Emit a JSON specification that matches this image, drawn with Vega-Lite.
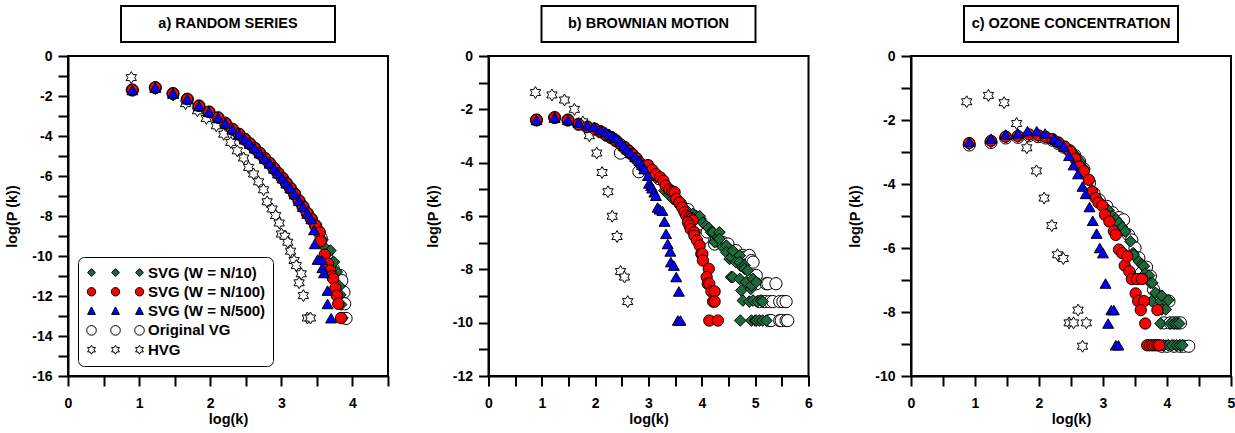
{
"$schema": "https://vega.github.io/schema/vega-lite/v6.json",
"padding": {"left": 4, "top": 5, "right": 2, "bottom": 4},
"background": "white",
"spacing": 34.5,
"resolve": {"scale": {"fill": "independent", "shape": "independent", "size": "independent"}},
"config": {
  "font": "Liberation Sans",
  "view": {"stroke": null},
  "axis": {"domain": true, "domainColor": "black", "domainWidth": 2, "grid": false, "ticks": true, "tickColor": "black", "tickWidth": 2, "tickSize": 10, "labelFont": "Liberation Sans", "labelFontSize": 14, "labelFontWeight": "bold", "labelColor": "black", "titleFont": "Liberation Sans", "titleFontSize": 14.5, "titleFontWeight": "bold", "titleColor": "black", "labelOverlap": false, "labelFlush": false},
  "axisX": {"labelPadding": 10, "titlePadding": 2},
  "axisY": {"labelPadding": 6, "titlePadding": 12}
},
"hconcat": [
 {"vconcat": [
   {"width": 214, "height": 36, "data": {"values": [{"t": "a) RANDOM SERIES"}]}, "layer": [
     {"mark": {"type": "rect", "fill": "white", "stroke": "black", "strokeWidth": 2}, "encoding": {}},
     {"mark": {"type": "text", "font": "Liberation Sans", "fontSize": 14.5, "fontWeight": "bold", "align": "center", "baseline": "middle", "color": "black"}, "encoding": {"text": {"field": "t", "type": "nominal"}}}]},
   {"width": 320, "height": 320, "resolve": {"scale": {"fill": "independent", "shape": "independent", "size": "independent"}}, "layer": [
    {"data": {"name": "a"},
    "mark": {"type": "point", "filled": true, "stroke": "black", "strokeWidth": 1, "opacity": 1},
    "encoding": {
      "x": {"field": "x", "type": "quantitative", "scale": {"domain": [0, 4.5], "nice": false, "zero": false}, "axis": {"title": "log(k)", "values": [0,0.5,1,1.5,2,2.5,3,3.5,4,4.5], "labelExpr": "datum.value % 1 === 0 ? '' + datum.value : ''", "encode": {"ticks": {"y2": {"value": {"expr": "datum.value % 1 === 0 ? 10 : 5"}}}}}},
      "y": {"field": "y", "type": "quantitative", "scale": {"domain": [-16, 0], "nice": false, "zero": false}, "axis": {"title": "log(P (k))", "values": [-16,-15,-14,-13,-12,-11,-10,-9,-8,-7,-6,-5,-4,-3,-2,-1,0], "labelExpr": "datum.value % 2 === 0 ? '' + datum.value : ''", "encode": {"ticks": {"x2": {"value": {"expr": "datum.value % 2 === 0 ? -10 : -5"}}}}}},
      "fill": {"field": "s", "type": "nominal", "legend": null, "scale": {"domain": ["SVG (W = N/10)", "SVG (W = N/100)", "SVG (W = N/500)", "Original VG", "HVG"], "range": ["#1b6a3b", "#ff0000", "#0000ff", "#ffffff", "#ffffff"]}},
      "shape": {"field": "s", "type": "nominal", "legend": null, "scale": {"domain": ["HVG", "Original VG", "SVG (W = N/500)", "SVG (W = N/100)", "SVG (W = N/10)"], "range": ["M0,-1L0.289,-0.5L0.866,-0.5L0.577,0L0.866,0.5L0.289,0.5L0,1L-0.289,0.5L-0.866,0.5L-0.577,0L-0.866,-0.5L-0.289,-0.5Z", "circle", "triangle-up", "circle", "diamond"]}},
      "size": {"field": "s", "type": "nominal", "legend": null, "scale": {"domain": ["Original VG", "HVG", "SVG (W = N/10)", "SVG (W = N/100)", "SVG (W = N/500)"], "range": [150, 120, 64, 100, 80]}}
    }},
    {"data": {"values": [{"s": "SVG (W = N/10)"}, {"s": "SVG (W = N/100)"}, {"s": "SVG (W = N/500)"}, {"s": "Original VG"}, {"s": "HVG"}]},
     "mark": {"type": "point", "filled": true, "opacity": 0, "stroke": "black", "strokeWidth": 1},
     "encoding": {
      "fill": {"field": "s", "type": "nominal", "scale": {"domain": ["SVG (W = N/10)", "SVG (W = N/100)", "SVG (W = N/500)", "Original VG", "HVG"], "range": ["#1b6a3b", "#ff0000", "#0000ff", "#ffffff", "#ffffff"]},
        "legend": {"title": null, "orient": "bottom-left", "offset": 10, "padding": 7, "strokeColor": "black", "cornerRadius": 6, "fillColor": "white", "symbolSize": 3600, "clipHeight": 17, "rowPadding": 2.3, "symbolOffset": 0, "labelOffset": 2, "labelFont": "Liberation Sans", "labelFontSize": 15, "labelFontWeight": "bold", "labelColor": "black", "labelLimit": 300, "symbolOpacity": 1, "symbolStrokeColor": "black", "symbolStrokeWidth": 1, "encode": {"legend": {"strokeWidth": {"value": 2}}}}},
      "shape": {"field": "s", "type": "nominal", "scale": {"domain": ["SVG (W = N/10)", "SVG (W = N/100)", "SVG (W = N/500)", "Original VG", "HVG"], "range": [
        "M-0.93,0L-0.8,-0.13L-0.67,0L-0.8,0.13ZM-0.13,0L0,-0.13L0.13,0L0,0.13ZM0.67,0L0.8,-0.13L0.93,0L0.8,0.13Z",
        "M-0.94,0A0.14,0.14 0 1,0 -0.66,0A0.14,0.14 0 1,0 -0.94,0ZM-0.14,0A0.14,0.14 0 1,0 0.14,0A0.14,0.14 0 1,0 -0.14,0ZM0.66,0A0.14,0.14 0 1,0 0.94,0A0.14,0.14 0 1,0 0.66,0Z",
        "M-0.8,-0.14L-0.67,0.11L-0.93,0.11ZM0,-0.14L0.13,0.11L-0.13,0.11ZM0.8,-0.14L0.93,0.11L0.67,0.11Z",
        "M-0.96,0A0.16,0.16 0 1,0 -0.64,0A0.16,0.16 0 1,0 -0.96,0ZM-0.16,0A0.16,0.16 0 1,0 0.16,0A0.16,0.16 0 1,0 -0.16,0ZM0.64,0A0.16,0.16 0 1,0 0.96,0A0.16,0.16 0 1,0 0.64,0Z",
        "M-0.8,-0.15L-0.757,-0.075L-0.67,-0.075L-0.713,0L-0.67,0.075L-0.757,0.075L-0.8,0.15L-0.843,0.075L-0.93,0.075L-0.887,0L-0.93,-0.075L-0.843,-0.075ZM0,-0.15L0.043,-0.075L0.13,-0.075L0.087,0L0.13,0.075L0.043,0.075L0,0.15L-0.043,0.075L-0.13,0.075L-0.087,0L-0.13,-0.075L-0.043,-0.075ZM0.8,-0.15L0.843,-0.075L0.93,-0.075L0.887,0L0.93,0.075L0.843,0.075L0.8,0.15L0.757,0.075L0.67,0.075L0.713,0L0.67,-0.075L0.757,-0.075Z"]}}
     }},
    {"data": {"values": [{"v": 0}, {"v": 4.5}]}, "mark": {"type": "rule", "stroke": "black", "strokeWidth": 2, "strokeCap": "square"},
     "encoding": {"x": {"field": "v", "type": "quantitative", "scale": {"domain": [0, 4.5], "nice": false, "zero": false}, "axis": {"title": "log(k)", "values": [0,0.5,1,1.5,2,2.5,3,3.5,4,4.5], "labelExpr": "datum.value % 1 === 0 ? '' + datum.value : ''", "encode": {"ticks": {"y2": {"value": {"expr": "datum.value % 1 === 0 ? 10 : 5"}}}}}}}},
    {"data": {"values": [{"w": -16}, {"w": 0}]}, "mark": {"type": "rule", "stroke": "black", "strokeWidth": 2, "strokeCap": "square"},
     "encoding": {"y": {"field": "w", "type": "quantitative", "scale": {"domain": [-16, 0], "nice": false, "zero": false}, "axis": {"title": "log(P (k))", "values": [-16,-15,-14,-13,-12,-11,-10,-9,-8,-7,-6,-5,-4,-3,-2,-1,0], "labelExpr": "datum.value % 2 === 0 ? '' + datum.value : ''", "encode": {"ticks": {"x2": {"value": {"expr": "datum.value % 2 === 0 ? -10 : -5"}}}}}}}}
    ]}
  ], "spacing": 14, "center": true, "bounds": "flush", "resolve": {"scale": {"fill": "independent", "shape": "independent", "size": "independent"}}},
 {"vconcat": [
   {"width": 214, "height": 36, "data": {"values": [{"t": "b) BROWNIAN MOTION"}]}, "layer": [
     {"mark": {"type": "rect", "fill": "white", "stroke": "black", "strokeWidth": 2}, "encoding": {}},
     {"mark": {"type": "text", "font": "Liberation Sans", "fontSize": 14.5, "fontWeight": "bold", "align": "center", "baseline": "middle", "color": "black"}, "encoding": {"text": {"field": "t", "type": "nominal"}}}]},
   {"width": 320, "height": 320, "layer": [
    {"data": {"name": "b"},
    "mark": {"type": "point", "filled": true, "stroke": "black", "strokeWidth": 1, "opacity": 1},
    "encoding": {
      "x": {"field": "x", "type": "quantitative", "scale": {"domain": [0, 6], "nice": false, "zero": false}, "axis": {"title": "log(k)", "values": [0,0.5,1,1.5,2,2.5,3,3.5,4,4.5,5,5.5,6], "labelExpr": "datum.value % 1 === 0 ? '' + datum.value : ''", "encode": {"ticks": {"y2": {"value": {"expr": "datum.value % 1 === 0 ? 10 : 5"}}}}}},
      "y": {"field": "y", "type": "quantitative", "scale": {"domain": [-12, 0], "nice": false, "zero": false}, "axis": {"title": "log(P (k))", "values": [-12,-11,-10,-9,-8,-7,-6,-5,-4,-3,-2,-1,0], "labelExpr": "datum.value % 2 === 0 ? '' + datum.value : ''", "encode": {"ticks": {"x2": {"value": {"expr": "datum.value % 2 === 0 ? -10 : -5"}}}}}},
      "fill": {"field": "s", "type": "nominal", "legend": null, "scale": {"domain": ["SVG (W = N/10)", "SVG (W = N/100)", "SVG (W = N/500)", "Original VG", "HVG"], "range": ["#1b6a3b", "#ff0000", "#0000ff", "#ffffff", "#ffffff"]}},
      "shape": {"field": "s", "type": "nominal", "legend": null, "scale": {"domain": ["HVG", "Original VG", "SVG (W = N/500)", "SVG (W = N/100)", "SVG (W = N/10)"], "range": ["M0,-1L0.289,-0.5L0.866,-0.5L0.577,0L0.866,0.5L0.289,0.5L0,1L-0.289,0.5L-0.866,0.5L-0.577,0L-0.866,-0.5L-0.289,-0.5Z", "circle", "triangle-up", "circle", "diamond"]}},
      "size": {"field": "s", "type": "nominal", "legend": null, "scale": {"domain": ["Original VG", "HVG", "SVG (W = N/10)", "SVG (W = N/100)", "SVG (W = N/500)"], "range": [150, 120, 64, 100, 80]}}
    }},
    {"data": {"values": [{"v": 0}, {"v": 6}]}, "mark": {"type": "rule", "stroke": "black", "strokeWidth": 2, "strokeCap": "square"},
     "encoding": {"x": {"field": "v", "type": "quantitative", "scale": {"domain": [0, 6], "nice": false, "zero": false}, "axis": {"title": "log(k)", "values": [0,0.5,1,1.5,2,2.5,3,3.5,4,4.5,5,5.5,6], "labelExpr": "datum.value % 1 === 0 ? '' + datum.value : ''", "encode": {"ticks": {"y2": {"value": {"expr": "datum.value % 1 === 0 ? 10 : 5"}}}}}}}},
    {"data": {"values": [{"w": -12}, {"w": 0}]}, "mark": {"type": "rule", "stroke": "black", "strokeWidth": 2, "strokeCap": "square"},
     "encoding": {"y": {"field": "w", "type": "quantitative", "scale": {"domain": [-12, 0], "nice": false, "zero": false}, "axis": {"title": "log(P (k))", "values": [-12,-11,-10,-9,-8,-7,-6,-5,-4,-3,-2,-1,0], "labelExpr": "datum.value % 2 === 0 ? '' + datum.value : ''", "encode": {"ticks": {"x2": {"value": {"expr": "datum.value % 2 === 0 ? -10 : -5"}}}}}}}}
    ]}
  ], "spacing": 14, "center": true, "bounds": "flush", "resolve": {"scale": {"fill": "independent", "shape": "independent", "size": "independent"}}},
 {"vconcat": [
   {"width": 214, "height": 36, "data": {"values": [{"t": "c) OZONE CONCENTRATION"}]}, "layer": [
     {"mark": {"type": "rect", "fill": "white", "stroke": "black", "strokeWidth": 2}, "encoding": {}},
     {"mark": {"type": "text", "font": "Liberation Sans", "fontSize": 14.5, "fontWeight": "bold", "align": "center", "baseline": "middle", "color": "black"}, "encoding": {"text": {"field": "t", "type": "nominal"}}}]},
   {"width": 320, "height": 320, "layer": [
    {"data": {"name": "c"},
    "mark": {"type": "point", "filled": true, "stroke": "black", "strokeWidth": 1, "opacity": 1},
    "encoding": {
      "x": {"field": "x", "type": "quantitative", "scale": {"domain": [0, 5], "nice": false, "zero": false}, "axis": {"title": "log(k)", "values": [0,0.5,1,1.5,2,2.5,3,3.5,4,4.5,5], "labelExpr": "datum.value % 1 === 0 ? '' + datum.value : ''", "encode": {"ticks": {"y2": {"value": {"expr": "datum.value % 1 === 0 ? 10 : 5"}}}}}},
      "y": {"field": "y", "type": "quantitative", "scale": {"domain": [-10, 0], "nice": false, "zero": false}, "axis": {"title": "log(P (k))", "values": [-10,-9,-8,-7,-6,-5,-4,-3,-2,-1,0], "labelExpr": "datum.value % 2 === 0 ? '' + datum.value : ''", "encode": {"ticks": {"x2": {"value": {"expr": "datum.value % 2 === 0 ? -10 : -5"}}}}}},
      "fill": {"field": "s", "type": "nominal", "legend": null, "scale": {"domain": ["SVG (W = N/10)", "SVG (W = N/100)", "SVG (W = N/500)", "Original VG", "HVG"], "range": ["#1b6a3b", "#ff0000", "#0000ff", "#ffffff", "#ffffff"]}},
      "shape": {"field": "s", "type": "nominal", "legend": null, "scale": {"domain": ["HVG", "Original VG", "SVG (W = N/500)", "SVG (W = N/100)", "SVG (W = N/10)"], "range": ["M0,-1L0.289,-0.5L0.866,-0.5L0.577,0L0.866,0.5L0.289,0.5L0,1L-0.289,0.5L-0.866,0.5L-0.577,0L-0.866,-0.5L-0.289,-0.5Z", "circle", "triangle-up", "circle", "diamond"]}},
      "size": {"field": "s", "type": "nominal", "legend": null, "scale": {"domain": ["Original VG", "HVG", "SVG (W = N/10)", "SVG (W = N/100)", "SVG (W = N/500)"], "range": [150, 120, 64, 100, 80]}}
    }},
    {"data": {"values": [{"v": 0}, {"v": 5}]}, "mark": {"type": "rule", "stroke": "black", "strokeWidth": 2, "strokeCap": "square"},
     "encoding": {"x": {"field": "v", "type": "quantitative", "scale": {"domain": [0, 5], "nice": false, "zero": false}, "axis": {"title": "log(k)", "values": [0,0.5,1,1.5,2,2.5,3,3.5,4,4.5,5], "labelExpr": "datum.value % 1 === 0 ? '' + datum.value : ''", "encode": {"ticks": {"y2": {"value": {"expr": "datum.value % 1 === 0 ? 10 : 5"}}}}}}}},
    {"data": {"values": [{"w": -10}, {"w": 0}]}, "mark": {"type": "rule", "stroke": "black", "strokeWidth": 2, "strokeCap": "square"},
     "encoding": {"y": {"field": "w", "type": "quantitative", "scale": {"domain": [-10, 0], "nice": false, "zero": false}, "axis": {"title": "log(P (k))", "values": [-10,-9,-8,-7,-6,-5,-4,-3,-2,-1,0], "labelExpr": "datum.value % 2 === 0 ? '' + datum.value : ''", "encode": {"ticks": {"x2": {"value": {"expr": "datum.value % 2 === 0 ? -10 : -5"}}}}}}}}
    ]}
  ], "spacing": 14, "center": true, "bounds": "flush", "resolve": {"scale": {"fill": "independent", "shape": "independent", "size": "independent"}}}
],
"datasets": {
"a": [
{"s":"Original VG","x":0.905,"y":-1.7},{"s":"Original VG","x":1.228,"y":-1.58},{"s":"Original VG","x":1.477,"y":-1.88},{"s":"Original VG","x":1.678,"y":-2.16},{"s":"Original VG","x":1.842,"y":-2.5},{"s":"Original VG","x":1.983,"y":-2.8},{"s":"Original VG","x":2.11,"y":-3.09},{"s":"Original VG","x":2.213,"y":-3.36},{"s":"Original VG","x":2.311,"y":-3.66},{"s":"Original VG","x":2.405,"y":-3.91},{"s":"Original VG","x":2.485,"y":-4.16},{"s":"Original VG","x":2.555,"y":-4.38},{"s":"Original VG","x":2.625,"y":-4.61},{"s":"Original VG","x":2.696,"y":-4.86},{"s":"Original VG","x":2.766,"y":-5.12},{"s":"Original VG","x":2.836,"y":-5.37},{"s":"Original VG","x":2.897,"y":-5.62},{"s":"Original VG","x":2.954,"y":-5.86},{"s":"Original VG","x":3.015,"y":-6.11},{"s":"Original VG","x":3.071,"y":-6.36},{"s":"Original VG","x":3.127,"y":-6.61},{"s":"Original VG","x":3.188,"y":-6.91},{"s":"Original VG","x":3.249,"y":-7.24},{"s":"Original VG","x":3.305,"y":-7.54},{"s":"Original VG","x":3.366,"y":-7.87},{"s":"Original VG","x":3.422,"y":-8.15},{"s":"Original VG","x":3.483,"y":-8.49},{"s":"Original VG","x":3.53,"y":-8.8},{"s":"Original VG","x":3.56,"y":-9.1},{"s":"Original VG","x":3.64,"y":-9.9},{"s":"Original VG","x":3.73,"y":-10.64},{"s":"Original VG","x":3.83,"y":-10.98},{"s":"Original VG","x":3.85,"y":-11.23},{"s":"Original VG","x":3.88,"y":-11.81},{"s":"Original VG","x":3.89,"y":-12.39},{"s":"Original VG","x":3.91,"y":-13.12},
{"s":"HVG","x":0.89,"y":-1.08},{"s":"HVG","x":1.23,"y":-1.62},{"s":"HVG","x":1.48,"y":-1.95},{"s":"HVG","x":1.654,"y":-2.38},{"s":"HVG","x":1.82,"y":-2.74},{"s":"HVG","x":1.945,"y":-3.12},{"s":"HVG","x":2.086,"y":-3.49},{"s":"HVG","x":2.19,"y":-3.91},{"s":"HVG","x":2.29,"y":-4.32},{"s":"HVG","x":2.38,"y":-4.74},{"s":"HVG","x":2.47,"y":-5.1},{"s":"HVG","x":2.54,"y":-5.57},{"s":"HVG","x":2.61,"y":-5.9},{"s":"HVG","x":2.68,"y":-6.29},{"s":"HVG","x":2.75,"y":-6.69},{"s":"HVG","x":2.8,"y":-7.29},{"s":"HVG","x":2.87,"y":-7.65},{"s":"HVG","x":2.92,"y":-7.98},{"s":"HVG","x":2.97,"y":-8.35},{"s":"HVG","x":3.0,"y":-8.9},{"s":"HVG","x":3.05,"y":-9.01},{"s":"HVG","x":3.09,"y":-9.31},{"s":"HVG","x":3.13,"y":-9.76},{"s":"HVG","x":3.18,"y":-10.23},{"s":"HVG","x":3.21,"y":-10.48},{"s":"HVG","x":3.28,"y":-10.89},{"s":"HVG","x":3.25,"y":-11.34},{"s":"HVG","x":3.31,"y":-11.98},{"s":"HVG","x":3.366,"y":-13.1},{"s":"HVG","x":3.41,"y":-13.1},
{"s":"SVG (W = N/10)","x":0.905,"y":-1.7},{"s":"SVG (W = N/10)","x":1.228,"y":-1.58},{"s":"SVG (W = N/10)","x":1.477,"y":-1.88},{"s":"SVG (W = N/10)","x":1.678,"y":-2.16},{"s":"SVG (W = N/10)","x":1.842,"y":-2.5},{"s":"SVG (W = N/10)","x":1.983,"y":-2.8},{"s":"SVG (W = N/10)","x":2.11,"y":-3.09},{"s":"SVG (W = N/10)","x":2.213,"y":-3.36},{"s":"SVG (W = N/10)","x":2.311,"y":-3.66},{"s":"SVG (W = N/10)","x":2.405,"y":-3.91},{"s":"SVG (W = N/10)","x":2.485,"y":-4.16},{"s":"SVG (W = N/10)","x":2.555,"y":-4.38},{"s":"SVG (W = N/10)","x":2.625,"y":-4.61},{"s":"SVG (W = N/10)","x":2.696,"y":-4.86},{"s":"SVG (W = N/10)","x":2.766,"y":-5.12},{"s":"SVG (W = N/10)","x":2.836,"y":-5.37},{"s":"SVG (W = N/10)","x":2.897,"y":-5.62},{"s":"SVG (W = N/10)","x":2.954,"y":-5.86},{"s":"SVG (W = N/10)","x":3.015,"y":-6.11},{"s":"SVG (W = N/10)","x":3.071,"y":-6.36},{"s":"SVG (W = N/10)","x":3.127,"y":-6.61},{"s":"SVG (W = N/10)","x":3.188,"y":-6.91},{"s":"SVG (W = N/10)","x":3.249,"y":-7.24},{"s":"SVG (W = N/10)","x":3.305,"y":-7.54},{"s":"SVG (W = N/10)","x":3.366,"y":-7.87},{"s":"SVG (W = N/10)","x":3.422,"y":-8.15},{"s":"SVG (W = N/10)","x":3.483,"y":-8.49},{"s":"SVG (W = N/10)","x":3.54,"y":-8.85},{"s":"SVG (W = N/10)","x":3.58,"y":-9.2},{"s":"SVG (W = N/10)","x":3.62,"y":-9.6},{"s":"SVG (W = N/10)","x":3.69,"y":-9.73},{"s":"SVG (W = N/10)","x":3.74,"y":-10.3},{"s":"SVG (W = N/10)","x":3.78,"y":-10.8},{"s":"SVG (W = N/10)","x":3.82,"y":-11.51},{"s":"SVG (W = N/10)","x":3.83,"y":-11.94},{"s":"SVG (W = N/10)","x":3.84,"y":-12.43},{"s":"SVG (W = N/10)","x":3.86,"y":-13.1},
{"s":"SVG (W = N/100)","x":0.905,"y":-1.7},{"s":"SVG (W = N/100)","x":1.228,"y":-1.58},{"s":"SVG (W = N/100)","x":1.477,"y":-1.88},{"s":"SVG (W = N/100)","x":1.678,"y":-2.16},{"s":"SVG (W = N/100)","x":1.842,"y":-2.5},{"s":"SVG (W = N/100)","x":1.983,"y":-2.8},{"s":"SVG (W = N/100)","x":2.11,"y":-3.09},{"s":"SVG (W = N/100)","x":2.213,"y":-3.36},{"s":"SVG (W = N/100)","x":2.311,"y":-3.66},{"s":"SVG (W = N/100)","x":2.405,"y":-3.91},{"s":"SVG (W = N/100)","x":2.485,"y":-4.16},{"s":"SVG (W = N/100)","x":2.555,"y":-4.38},{"s":"SVG (W = N/100)","x":2.625,"y":-4.61},{"s":"SVG (W = N/100)","x":2.696,"y":-4.86},{"s":"SVG (W = N/100)","x":2.766,"y":-5.12},{"s":"SVG (W = N/100)","x":2.836,"y":-5.37},{"s":"SVG (W = N/100)","x":2.897,"y":-5.62},{"s":"SVG (W = N/100)","x":2.954,"y":-5.86},{"s":"SVG (W = N/100)","x":3.015,"y":-6.11},{"s":"SVG (W = N/100)","x":3.071,"y":-6.36},{"s":"SVG (W = N/100)","x":3.127,"y":-6.61},{"s":"SVG (W = N/100)","x":3.188,"y":-6.91},{"s":"SVG (W = N/100)","x":3.249,"y":-7.24},{"s":"SVG (W = N/100)","x":3.305,"y":-7.54},{"s":"SVG (W = N/100)","x":3.366,"y":-7.87},{"s":"SVG (W = N/100)","x":3.422,"y":-8.15},{"s":"SVG (W = N/100)","x":3.483,"y":-8.49},{"s":"SVG (W = N/100)","x":3.54,"y":-8.82},{"s":"SVG (W = N/100)","x":3.553,"y":-9.26},{"s":"SVG (W = N/100)","x":3.61,"y":-9.93},{"s":"SVG (W = N/100)","x":3.657,"y":-10.39},{"s":"SVG (W = N/100)","x":3.69,"y":-10.73},{"s":"SVG (W = N/100)","x":3.713,"y":-11.01},{"s":"SVG (W = N/100)","x":3.73,"y":-11.14},{"s":"SVG (W = N/100)","x":3.76,"y":-11.61},{"s":"SVG (W = N/100)","x":3.78,"y":-11.98},{"s":"SVG (W = N/100)","x":3.8,"y":-12.39},{"s":"SVG (W = N/100)","x":3.84,"y":-13.1},
{"s":"SVG (W = N/500)","x":0.905,"y":-1.7},{"s":"SVG (W = N/500)","x":1.228,"y":-1.58},{"s":"SVG (W = N/500)","x":1.477,"y":-1.88},{"s":"SVG (W = N/500)","x":1.678,"y":-2.16},{"s":"SVG (W = N/500)","x":1.842,"y":-2.5},{"s":"SVG (W = N/500)","x":1.983,"y":-2.8},{"s":"SVG (W = N/500)","x":2.11,"y":-3.09},{"s":"SVG (W = N/500)","x":2.213,"y":-3.36},{"s":"SVG (W = N/500)","x":2.311,"y":-3.66},{"s":"SVG (W = N/500)","x":2.405,"y":-3.91},{"s":"SVG (W = N/500)","x":2.485,"y":-4.16},{"s":"SVG (W = N/500)","x":2.555,"y":-4.38},{"s":"SVG (W = N/500)","x":2.625,"y":-4.61},{"s":"SVG (W = N/500)","x":2.696,"y":-4.86},{"s":"SVG (W = N/500)","x":2.766,"y":-5.12},{"s":"SVG (W = N/500)","x":2.836,"y":-5.37},{"s":"SVG (W = N/500)","x":2.897,"y":-5.62},{"s":"SVG (W = N/500)","x":2.954,"y":-5.86},{"s":"SVG (W = N/500)","x":3.015,"y":-6.11},{"s":"SVG (W = N/500)","x":3.071,"y":-6.36},{"s":"SVG (W = N/500)","x":3.127,"y":-6.61},{"s":"SVG (W = N/500)","x":3.188,"y":-6.91},{"s":"SVG (W = N/500)","x":3.249,"y":-7.24},{"s":"SVG (W = N/500)","x":3.305,"y":-7.54},{"s":"SVG (W = N/500)","x":3.366,"y":-7.87},{"s":"SVG (W = N/500)","x":3.422,"y":-8.15},{"s":"SVG (W = N/500)","x":3.46,"y":-8.7},{"s":"SVG (W = N/500)","x":3.47,"y":-9.4},{"s":"SVG (W = N/500)","x":3.51,"y":-10.18},{"s":"SVG (W = N/500)","x":3.57,"y":-10.19},{"s":"SVG (W = N/500)","x":3.577,"y":-10.59},{"s":"SVG (W = N/500)","x":3.6,"y":-10.85},{"s":"SVG (W = N/500)","x":3.65,"y":-11.73},{"s":"SVG (W = N/500)","x":3.65,"y":-12.4},{"s":"SVG (W = N/500)","x":3.7,"y":-13.11}
],
"b": [
{"s":"Original VG","x":0.9,"y":-2.4},{"s":"Original VG","x":1.24,"y":-2.31},{"s":"Original VG","x":1.49,"y":-2.4},{"s":"Original VG","x":1.69,"y":-2.56},{"s":"Original VG","x":1.85,"y":-2.66},{"s":"Original VG","x":1.99,"y":-2.74},{"s":"Original VG","x":2.1,"y":-2.84},{"s":"Original VG","x":2.21,"y":-2.97},{"s":"Original VG","x":2.3,"y":-3.06},{"s":"Original VG","x":2.39,"y":-3.18},{"s":"Original VG","x":2.475,"y":-3.64},{"s":"Original VG","x":2.55,"y":-3.43},{"s":"Original VG","x":2.625,"y":-3.56},{"s":"Original VG","x":2.69,"y":-3.68},{"s":"Original VG","x":2.77,"y":-3.84},{"s":"Original VG","x":2.82,"y":-4.34},{"s":"Original VG","x":2.89,"y":-4.12},{"s":"Original VG","x":2.96,"y":-4.24},{"s":"Original VG","x":3.05,"y":-4.3},{"s":"Original VG","x":3.2,"y":-4.6},{"s":"Original VG","x":3.4,"y":-5.1},{"s":"Original VG","x":3.6,"y":-5.55},{"s":"Original VG","x":3.74,"y":-5.76},{"s":"Original VG","x":3.85,"y":-6.0},{"s":"Original VG","x":3.95,"y":-6.3},{"s":"Original VG","x":4.02,"y":-6.84},{"s":"Original VG","x":4.1,"y":-6.6},{"s":"Original VG","x":4.24,"y":-7.05},{"s":"Original VG","x":4.27,"y":-6.92},{"s":"Original VG","x":4.4,"y":-7.0},{"s":"Original VG","x":4.49,"y":-7.05},{"s":"Original VG","x":4.64,"y":-7.3},{"s":"Original VG","x":4.77,"y":-7.48},{"s":"Original VG","x":4.8,"y":-7.55},{"s":"Original VG","x":4.77,"y":-7.86},{"s":"Original VG","x":4.89,"y":-7.48},{"s":"Original VG","x":4.93,"y":-7.67},{"s":"Original VG","x":4.96,"y":-7.73},{"s":"Original VG","x":5.02,"y":-8.23},{"s":"Original VG","x":5.02,"y":-8.54},{"s":"Original VG","x":5.21,"y":-8.54},{"s":"Original VG","x":5.24,"y":-8.54},{"s":"Original VG","x":5.39,"y":-8.54},{"s":"Original VG","x":5.08,"y":-9.21},{"s":"Original VG","x":5.18,"y":-9.21},{"s":"Original VG","x":5.27,"y":-9.21},{"s":"Original VG","x":5.33,"y":-9.21},{"s":"Original VG","x":5.46,"y":-9.21},{"s":"Original VG","x":5.52,"y":-9.21},{"s":"Original VG","x":5.58,"y":-9.21},{"s":"Original VG","x":5.27,"y":-9.92},{"s":"Original VG","x":5.3,"y":-9.92},{"s":"Original VG","x":5.46,"y":-9.92},{"s":"Original VG","x":5.49,"y":-9.92},{"s":"Original VG","x":5.58,"y":-9.92},{"s":"Original VG","x":5.61,"y":-9.92},
{"s":"HVG","x":0.88,"y":-1.37},{"s":"HVG","x":1.19,"y":-1.46},{"s":"HVG","x":1.425,"y":-1.65},{"s":"HVG","x":1.61,"y":-2.0},{"s":"HVG","x":1.77,"y":-2.47},{"s":"HVG","x":1.89,"y":-2.99},{"s":"HVG","x":2.03,"y":-3.64},{"s":"HVG","x":2.13,"y":-4.37},{"s":"HVG","x":2.24,"y":-5.09},{"s":"HVG","x":2.32,"y":-6.01},{"s":"HVG","x":2.41,"y":-6.77},{"s":"HVG","x":2.475,"y":-8.08},{"s":"HVG","x":2.55,"y":-8.29},{"s":"HVG","x":2.61,"y":-9.21},
{"s":"SVG (W = N/10)","x":0.9,"y":-2.4},{"s":"SVG (W = N/10)","x":1.24,"y":-2.31},{"s":"SVG (W = N/10)","x":1.49,"y":-2.4},{"s":"SVG (W = N/10)","x":1.69,"y":-2.56},{"s":"SVG (W = N/10)","x":1.85,"y":-2.66},{"s":"SVG (W = N/10)","x":1.99,"y":-2.74},{"s":"SVG (W = N/10)","x":2.1,"y":-2.84},{"s":"SVG (W = N/10)","x":2.21,"y":-2.97},{"s":"SVG (W = N/10)","x":2.3,"y":-3.06},{"s":"SVG (W = N/10)","x":2.39,"y":-3.18},{"s":"SVG (W = N/10)","x":2.475,"y":-3.31},{"s":"SVG (W = N/10)","x":2.55,"y":-3.43},{"s":"SVG (W = N/10)","x":2.625,"y":-3.56},{"s":"SVG (W = N/10)","x":2.69,"y":-3.68},{"s":"SVG (W = N/10)","x":2.77,"y":-3.84},{"s":"SVG (W = N/10)","x":2.83,"y":-3.99},{"s":"SVG (W = N/10)","x":2.89,"y":-4.12},{"s":"SVG (W = N/10)","x":2.96,"y":-4.24},{"s":"SVG (W = N/10)","x":3.05,"y":-4.35},{"s":"SVG (W = N/10)","x":3.15,"y":-4.55},{"s":"SVG (W = N/10)","x":3.3,"y":-5.05},{"s":"SVG (W = N/10)","x":3.38,"y":-5.2},{"s":"SVG (W = N/10)","x":3.46,"y":-5.36},{"s":"SVG (W = N/10)","x":3.55,"y":-5.52},{"s":"SVG (W = N/10)","x":3.64,"y":-5.68},{"s":"SVG (W = N/10)","x":3.72,"y":-5.8},{"s":"SVG (W = N/10)","x":3.83,"y":-5.92},{"s":"SVG (W = N/10)","x":3.9,"y":-6.05},{"s":"SVG (W = N/10)","x":3.975,"y":-6.11},{"s":"SVG (W = N/10)","x":3.96,"y":-6.01},{"s":"SVG (W = N/10)","x":4.02,"y":-6.25},{"s":"SVG (W = N/10)","x":4.08,"y":-6.36},{"s":"SVG (W = N/10)","x":4.13,"y":-6.45},{"s":"SVG (W = N/10)","x":4.175,"y":-6.61},{"s":"SVG (W = N/10)","x":4.21,"y":-6.61},{"s":"SVG (W = N/10)","x":4.24,"y":-6.98},{"s":"SVG (W = N/10)","x":4.3,"y":-6.8},{"s":"SVG (W = N/10)","x":4.33,"y":-6.61},{"s":"SVG (W = N/10)","x":4.33,"y":-6.86},{"s":"SVG (W = N/10)","x":4.39,"y":-7.17},{"s":"SVG (W = N/10)","x":4.46,"y":-7.11},{"s":"SVG (W = N/10)","x":4.46,"y":-7.36},{"s":"SVG (W = N/10)","x":4.52,"y":-7.61},{"s":"SVG (W = N/10)","x":4.55,"y":-7.55},{"s":"SVG (W = N/10)","x":4.58,"y":-7.3},{"s":"SVG (W = N/10)","x":4.64,"y":-7.73},{"s":"SVG (W = N/10)","x":4.71,"y":-7.48},{"s":"SVG (W = N/10)","x":4.71,"y":-7.73},{"s":"SVG (W = N/10)","x":4.77,"y":-7.9},{"s":"SVG (W = N/10)","x":4.8,"y":-7.86},{"s":"SVG (W = N/10)","x":4.8,"y":-7.98},{"s":"SVG (W = N/10)","x":4.86,"y":-8.05},{"s":"SVG (W = N/10)","x":4.55,"y":-8.29},{"s":"SVG (W = N/10)","x":4.58,"y":-8.29},{"s":"SVG (W = N/10)","x":4.71,"y":-8.36},{"s":"SVG (W = N/10)","x":4.74,"y":-8.79},{"s":"SVG (W = N/10)","x":4.83,"y":-8.48},{"s":"SVG (W = N/10)","x":4.92,"y":-8.73},{"s":"SVG (W = N/10)","x":4.93,"y":-8.61},{"s":"SVG (W = N/10)","x":4.96,"y":-8.36},{"s":"SVG (W = N/10)","x":5.02,"y":-8.48},{"s":"SVG (W = N/10)","x":4.77,"y":-9.17},{"s":"SVG (W = N/10)","x":4.89,"y":-9.21},{"s":"SVG (W = N/10)","x":4.96,"y":-9.17},{"s":"SVG (W = N/10)","x":5.04,"y":-9.21},{"s":"SVG (W = N/10)","x":5.11,"y":-9.17},{"s":"SVG (W = N/10)","x":5.14,"y":-9.21},{"s":"SVG (W = N/10)","x":4.72,"y":-9.92},{"s":"SVG (W = N/10)","x":4.93,"y":-9.92},{"s":"SVG (W = N/10)","x":5.0,"y":-9.92},{"s":"SVG (W = N/10)","x":5.02,"y":-9.92},{"s":"SVG (W = N/10)","x":5.08,"y":-9.92},{"s":"SVG (W = N/10)","x":5.14,"y":-9.92},{"s":"SVG (W = N/10)","x":5.21,"y":-9.92},
{"s":"SVG (W = N/100)","x":0.9,"y":-2.4},{"s":"SVG (W = N/100)","x":1.24,"y":-2.31},{"s":"SVG (W = N/100)","x":1.49,"y":-2.4},{"s":"SVG (W = N/100)","x":1.69,"y":-2.56},{"s":"SVG (W = N/100)","x":1.85,"y":-2.66},{"s":"SVG (W = N/100)","x":1.99,"y":-2.74},{"s":"SVG (W = N/100)","x":2.1,"y":-2.84},{"s":"SVG (W = N/100)","x":2.21,"y":-2.97},{"s":"SVG (W = N/100)","x":2.3,"y":-3.06},{"s":"SVG (W = N/100)","x":2.39,"y":-3.18},{"s":"SVG (W = N/100)","x":2.475,"y":-3.31},{"s":"SVG (W = N/100)","x":2.55,"y":-3.43},{"s":"SVG (W = N/100)","x":2.625,"y":-3.56},{"s":"SVG (W = N/100)","x":2.69,"y":-3.68},{"s":"SVG (W = N/100)","x":2.77,"y":-3.84},{"s":"SVG (W = N/100)","x":2.83,"y":-3.99},{"s":"SVG (W = N/100)","x":2.89,"y":-4.12},{"s":"SVG (W = N/100)","x":2.99,"y":-4.09},{"s":"SVG (W = N/100)","x":3.07,"y":-4.27},{"s":"SVG (W = N/100)","x":3.14,"y":-4.43},{"s":"SVG (W = N/100)","x":3.22,"y":-4.55},{"s":"SVG (W = N/100)","x":3.28,"y":-4.68},{"s":"SVG (W = N/100)","x":3.32,"y":-4.86},{"s":"SVG (W = N/100)","x":3.39,"y":-5.01},{"s":"SVG (W = N/100)","x":3.45,"y":-5.08},{"s":"SVG (W = N/100)","x":3.49,"y":-5.11},{"s":"SVG (W = N/100)","x":3.52,"y":-5.36},{"s":"SVG (W = N/100)","x":3.58,"y":-5.49},{"s":"SVG (W = N/100)","x":3.63,"y":-5.68},{"s":"SVG (W = N/100)","x":3.675,"y":-5.86},{"s":"SVG (W = N/100)","x":3.71,"y":-5.99},{"s":"SVG (W = N/100)","x":3.77,"y":-6.05},{"s":"SVG (W = N/100)","x":3.8,"y":-6.11},{"s":"SVG (W = N/100)","x":3.83,"y":-6.17},{"s":"SVG (W = N/100)","x":3.74,"y":-6.24},{"s":"SVG (W = N/100)","x":3.77,"y":-6.36},{"s":"SVG (W = N/100)","x":3.79,"y":-6.49},{"s":"SVG (W = N/100)","x":3.86,"y":-6.61},{"s":"SVG (W = N/100)","x":3.86,"y":-6.74},{"s":"SVG (W = N/100)","x":3.91,"y":-6.92},{"s":"SVG (W = N/100)","x":3.96,"y":-7.11},{"s":"SVG (W = N/100)","x":3.99,"y":-7.42},{"s":"SVG (W = N/100)","x":4.01,"y":-7.42},{"s":"SVG (W = N/100)","x":4.02,"y":-7.67},{"s":"SVG (W = N/100)","x":4.13,"y":-7.98},{"s":"SVG (W = N/100)","x":4.09,"y":-8.29},{"s":"SVG (W = N/100)","x":4.11,"y":-8.54},{"s":"SVG (W = N/100)","x":4.14,"y":-8.54},{"s":"SVG (W = N/100)","x":4.18,"y":-8.83},{"s":"SVG (W = N/100)","x":4.24,"y":-8.83},{"s":"SVG (W = N/100)","x":4.21,"y":-9.21},{"s":"SVG (W = N/100)","x":4.24,"y":-9.21},{"s":"SVG (W = N/100)","x":4.14,"y":-9.92},{"s":"SVG (W = N/100)","x":4.3,"y":-9.92},
{"s":"SVG (W = N/500)","x":0.9,"y":-2.4},{"s":"SVG (W = N/500)","x":1.24,"y":-2.31},{"s":"SVG (W = N/500)","x":1.49,"y":-2.4},{"s":"SVG (W = N/500)","x":1.69,"y":-2.5},{"s":"SVG (W = N/500)","x":1.85,"y":-2.6},{"s":"SVG (W = N/500)","x":1.98,"y":-2.66},{"s":"SVG (W = N/500)","x":2.11,"y":-2.78},{"s":"SVG (W = N/500)","x":2.2,"y":-2.85},{"s":"SVG (W = N/500)","x":2.27,"y":-2.93},{"s":"SVG (W = N/500)","x":2.33,"y":-3.0},{"s":"SVG (W = N/500)","x":2.39,"y":-3.07},{"s":"SVG (W = N/500)","x":2.47,"y":-3.22},{"s":"SVG (W = N/500)","x":2.54,"y":-3.37},{"s":"SVG (W = N/500)","x":2.6,"y":-3.5},{"s":"SVG (W = N/500)","x":2.67,"y":-3.64},{"s":"SVG (W = N/500)","x":2.75,"y":-3.78},{"s":"SVG (W = N/500)","x":2.83,"y":-3.93},{"s":"SVG (W = N/500)","x":2.88,"y":-4.08},{"s":"SVG (W = N/500)","x":2.92,"y":-4.24},{"s":"SVG (W = N/500)","x":2.99,"y":-4.49},{"s":"SVG (W = N/500)","x":3.01,"y":-4.78},{"s":"SVG (W = N/500)","x":3.05,"y":-4.87},{"s":"SVG (W = N/500)","x":3.07,"y":-4.96},{"s":"SVG (W = N/500)","x":3.11,"y":-5.11},{"s":"SVG (W = N/500)","x":3.14,"y":-5.24},{"s":"SVG (W = N/500)","x":3.17,"y":-5.68},{"s":"SVG (W = N/500)","x":3.21,"y":-5.75},{"s":"SVG (W = N/500)","x":3.26,"y":-5.8},{"s":"SVG (W = N/500)","x":3.3,"y":-6.21},{"s":"SVG (W = N/500)","x":3.33,"y":-6.67},{"s":"SVG (W = N/500)","x":3.36,"y":-7.05},{"s":"SVG (W = N/500)","x":3.41,"y":-7.33},{"s":"SVG (W = N/500)","x":3.42,"y":-7.73},{"s":"SVG (W = N/500)","x":3.475,"y":-7.86},{"s":"SVG (W = N/500)","x":3.52,"y":-8.29},{"s":"SVG (W = N/500)","x":3.57,"y":-8.83},{"s":"SVG (W = N/500)","x":3.55,"y":-9.92},{"s":"SVG (W = N/500)","x":3.6,"y":-9.92}
],
"c": [
{"s":"Original VG","x":0.91,"y":-2.78},{"s":"Original VG","x":1.25,"y":-2.7},{"s":"Original VG","x":1.48,"y":-2.56},{"s":"Original VG","x":1.67,"y":-2.54},{"s":"Original VG","x":1.845,"y":-2.49},{"s":"Original VG","x":1.99,"y":-2.52},{"s":"Original VG","x":2.105,"y":-2.56},{"s":"Original VG","x":2.21,"y":-2.63},{"s":"Original VG","x":2.3,"y":-2.73},{"s":"Original VG","x":2.39,"y":-2.85},{"s":"Original VG","x":2.48,"y":-2.96},{"s":"Original VG","x":2.56,"y":-3.11},{"s":"Original VG","x":2.635,"y":-3.3},{"s":"Original VG","x":2.7,"y":-3.53},{"s":"Original VG","x":2.79,"y":-3.96},{"s":"Original VG","x":2.86,"y":-4.3},{"s":"Original VG","x":2.94,"y":-4.5},{"s":"Original VG","x":3.06,"y":-4.7},{"s":"Original VG","x":3.15,"y":-4.9},{"s":"Original VG","x":3.25,"y":-5.05},{"s":"Original VG","x":3.32,"y":-5.12},{"s":"Original VG","x":3.4,"y":-5.59},{"s":"Original VG","x":3.45,"y":-5.75},{"s":"Original VG","x":3.5,"y":-6.0},{"s":"Original VG","x":3.56,"y":-6.31},{"s":"Original VG","x":3.6,"y":-6.78},{"s":"Original VG","x":3.68,"y":-6.6},{"s":"Original VG","x":3.74,"y":-6.88},{"s":"Original VG","x":3.79,"y":-7.3},{"s":"Original VG","x":3.85,"y":-7.5},{"s":"Original VG","x":3.9,"y":-7.61},{"s":"Original VG","x":4.03,"y":-7.66},{"s":"Original VG","x":3.95,"y":-8.34},{"s":"Original VG","x":4.05,"y":-8.34},{"s":"Original VG","x":4.11,"y":-8.34},{"s":"Original VG","x":4.16,"y":-8.34},{"s":"Original VG","x":4.21,"y":-8.34},{"s":"Original VG","x":3.92,"y":-9.07},{"s":"Original VG","x":4.0,"y":-9.07},{"s":"Original VG","x":4.11,"y":-9.07},{"s":"Original VG","x":4.2,"y":-9.07},{"s":"Original VG","x":4.26,"y":-9.07},{"s":"Original VG","x":4.34,"y":-9.07},
{"s":"HVG","x":0.87,"y":-1.43},{"s":"HVG","x":1.21,"y":-1.23},{"s":"HVG","x":1.455,"y":-1.46},{"s":"HVG","x":1.65,"y":-2.11},{"s":"HVG","x":1.81,"y":-2.87},{"s":"HVG","x":1.96,"y":-3.59},{"s":"HVG","x":2.08,"y":-4.44},{"s":"HVG","x":2.2,"y":-5.3},{"s":"HVG","x":2.29,"y":-6.21},{"s":"HVG","x":2.38,"y":-6.33},{"s":"HVG","x":2.47,"y":-8.34},{"s":"HVG","x":2.54,"y":-8.34},{"s":"HVG","x":2.61,"y":-7.94},{"s":"HVG","x":2.74,"y":-8.34},{"s":"HVG","x":2.68,"y":-9.07},
{"s":"SVG (W = N/10)","x":0.91,"y":-2.75},{"s":"SVG (W = N/10)","x":1.25,"y":-2.68},{"s":"SVG (W = N/10)","x":1.48,"y":-2.54},{"s":"SVG (W = N/10)","x":1.67,"y":-2.52},{"s":"SVG (W = N/10)","x":1.845,"y":-2.47},{"s":"SVG (W = N/10)","x":1.99,"y":-2.5},{"s":"SVG (W = N/10)","x":2.105,"y":-2.54},{"s":"SVG (W = N/10)","x":2.21,"y":-2.61},{"s":"SVG (W = N/10)","x":2.3,"y":-2.71},{"s":"SVG (W = N/10)","x":2.39,"y":-2.83},{"s":"SVG (W = N/10)","x":2.48,"y":-2.94},{"s":"SVG (W = N/10)","x":2.56,"y":-3.09},{"s":"SVG (W = N/10)","x":2.635,"y":-3.28},{"s":"SVG (W = N/10)","x":2.7,"y":-3.51},{"s":"SVG (W = N/10)","x":2.78,"y":-3.87},{"s":"SVG (W = N/10)","x":2.83,"y":-4.2},{"s":"SVG (W = N/10)","x":2.94,"y":-4.55},{"s":"SVG (W = N/10)","x":3.0,"y":-4.7},{"s":"SVG (W = N/10)","x":3.07,"y":-4.81},{"s":"SVG (W = N/10)","x":3.09,"y":-4.83},{"s":"SVG (W = N/10)","x":3.15,"y":-5.0},{"s":"SVG (W = N/10)","x":3.2,"y":-5.1},{"s":"SVG (W = N/10)","x":3.25,"y":-5.22},{"s":"SVG (W = N/10)","x":3.3,"y":-5.35},{"s":"SVG (W = N/10)","x":3.35,"y":-5.48},{"s":"SVG (W = N/10)","x":3.43,"y":-5.79},{"s":"SVG (W = N/10)","x":3.47,"y":-6.16},{"s":"SVG (W = N/10)","x":3.48,"y":-6.21},{"s":"SVG (W = N/10)","x":3.56,"y":-6.42},{"s":"SVG (W = N/10)","x":3.61,"y":-6.52},{"s":"SVG (W = N/10)","x":3.64,"y":-6.57},{"s":"SVG (W = N/10)","x":3.66,"y":-6.8},{"s":"SVG (W = N/10)","x":3.72,"y":-6.86},{"s":"SVG (W = N/10)","x":3.74,"y":-7.09},{"s":"SVG (W = N/10)","x":3.77,"y":-7.09},{"s":"SVG (W = N/10)","x":3.82,"y":-7.4},{"s":"SVG (W = N/10)","x":3.76,"y":-7.66},{"s":"SVG (W = N/10)","x":3.9,"y":-7.66},{"s":"SVG (W = N/10)","x":3.92,"y":-7.49},{"s":"SVG (W = N/10)","x":4.02,"y":-7.63},{"s":"SVG (W = N/10)","x":3.92,"y":-7.92},{"s":"SVG (W = N/10)","x":3.98,"y":-7.92},{"s":"SVG (W = N/10)","x":3.9,"y":-8.36},{"s":"SVG (W = N/10)","x":4.05,"y":-8.36},{"s":"SVG (W = N/10)","x":4.11,"y":-8.36},{"s":"SVG (W = N/10)","x":4.15,"y":-8.36},{"s":"SVG (W = N/10)","x":4.19,"y":-8.36},{"s":"SVG (W = N/10)","x":3.95,"y":-9.04},{"s":"SVG (W = N/10)","x":4.02,"y":-9.04},{"s":"SVG (W = N/10)","x":4.08,"y":-9.04},{"s":"SVG (W = N/10)","x":4.15,"y":-9.04},{"s":"SVG (W = N/10)","x":4.2,"y":-9.04},{"s":"SVG (W = N/10)","x":4.24,"y":-9.04},
{"s":"SVG (W = N/100)","x":0.91,"y":-2.72},{"s":"SVG (W = N/100)","x":1.25,"y":-2.65},{"s":"SVG (W = N/100)","x":1.48,"y":-2.52},{"s":"SVG (W = N/100)","x":1.67,"y":-2.5},{"s":"SVG (W = N/100)","x":1.845,"y":-2.45},{"s":"SVG (W = N/100)","x":1.99,"y":-2.48},{"s":"SVG (W = N/100)","x":2.105,"y":-2.53},{"s":"SVG (W = N/100)","x":2.21,"y":-2.6},{"s":"SVG (W = N/100)","x":2.3,"y":-2.7},{"s":"SVG (W = N/100)","x":2.4,"y":-2.83},{"s":"SVG (W = N/100)","x":2.49,"y":-2.99},{"s":"SVG (W = N/100)","x":2.57,"y":-3.22},{"s":"SVG (W = N/100)","x":2.63,"y":-3.45},{"s":"SVG (W = N/100)","x":2.7,"y":-3.6},{"s":"SVG (W = N/100)","x":2.78,"y":-3.87},{"s":"SVG (W = N/100)","x":2.83,"y":-4.24},{"s":"SVG (W = N/100)","x":2.885,"y":-4.44},{"s":"SVG (W = N/100)","x":2.93,"y":-4.58},{"s":"SVG (W = N/100)","x":2.99,"y":-4.68},{"s":"SVG (W = N/100)","x":3.03,"y":-4.96},{"s":"SVG (W = N/100)","x":3.1,"y":-5.17},{"s":"SVG (W = N/100)","x":3.17,"y":-5.48},{"s":"SVG (W = N/100)","x":3.2,"y":-5.59},{"s":"SVG (W = N/100)","x":3.25,"y":-6.05},{"s":"SVG (W = N/100)","x":3.3,"y":-6.16},{"s":"SVG (W = N/100)","x":3.34,"y":-6.55},{"s":"SVG (W = N/100)","x":3.38,"y":-6.26},{"s":"SVG (W = N/100)","x":3.41,"y":-6.73},{"s":"SVG (W = N/100)","x":3.45,"y":-6.97},{"s":"SVG (W = N/100)","x":3.53,"y":-6.97},{"s":"SVG (W = N/100)","x":3.61,"y":-6.97},{"s":"SVG (W = N/100)","x":3.51,"y":-7.42},{"s":"SVG (W = N/100)","x":3.55,"y":-7.66},{"s":"SVG (W = N/100)","x":3.64,"y":-7.66},{"s":"SVG (W = N/100)","x":3.59,"y":-7.94},{"s":"SVG (W = N/100)","x":3.85,"y":-7.94},{"s":"SVG (W = N/100)","x":3.66,"y":-8.36},{"s":"SVG (W = N/100)","x":3.69,"y":-9.04},{"s":"SVG (W = N/100)","x":3.73,"y":-9.04},{"s":"SVG (W = N/100)","x":3.77,"y":-9.04},{"s":"SVG (W = N/100)","x":3.81,"y":-9.04},{"s":"SVG (W = N/100)","x":3.85,"y":-9.04},{"s":"SVG (W = N/100)","x":3.88,"y":-9.04},
{"s":"SVG (W = N/500)","x":0.91,"y":-2.68},{"s":"SVG (W = N/500)","x":1.25,"y":-2.58},{"s":"SVG (W = N/500)","x":1.48,"y":-2.45},{"s":"SVG (W = N/500)","x":1.67,"y":-2.42},{"s":"SVG (W = N/500)","x":1.82,"y":-2.35},{"s":"SVG (W = N/500)","x":1.965,"y":-2.35},{"s":"SVG (W = N/500)","x":2.095,"y":-2.42},{"s":"SVG (W = N/500)","x":2.235,"y":-2.58},{"s":"SVG (W = N/500)","x":2.31,"y":-2.68},{"s":"SVG (W = N/500)","x":2.39,"y":-2.83},{"s":"SVG (W = N/500)","x":2.47,"y":-3.12},{"s":"SVG (W = N/500)","x":2.54,"y":-3.41},{"s":"SVG (W = N/500)","x":2.61,"y":-3.69},{"s":"SVG (W = N/500)","x":2.68,"y":-4.08},{"s":"SVG (W = N/500)","x":2.73,"y":-4.31},{"s":"SVG (W = N/500)","x":2.79,"y":-4.72},{"s":"SVG (W = N/500)","x":2.84,"y":-5.15},{"s":"SVG (W = N/500)","x":2.9,"y":-5.55},{"s":"SVG (W = N/500)","x":2.95,"y":-6.0},{"s":"SVG (W = N/500)","x":3.0,"y":-6.16},{"s":"SVG (W = N/500)","x":3.04,"y":-7.11},{"s":"SVG (W = N/500)","x":3.13,"y":-7.94},{"s":"SVG (W = N/500)","x":3.17,"y":-7.94},{"s":"SVG (W = N/500)","x":3.08,"y":-8.36},{"s":"SVG (W = N/500)","x":3.2,"y":-9.04},{"s":"SVG (W = N/500)","x":3.24,"y":-9.04}
]
}
}
